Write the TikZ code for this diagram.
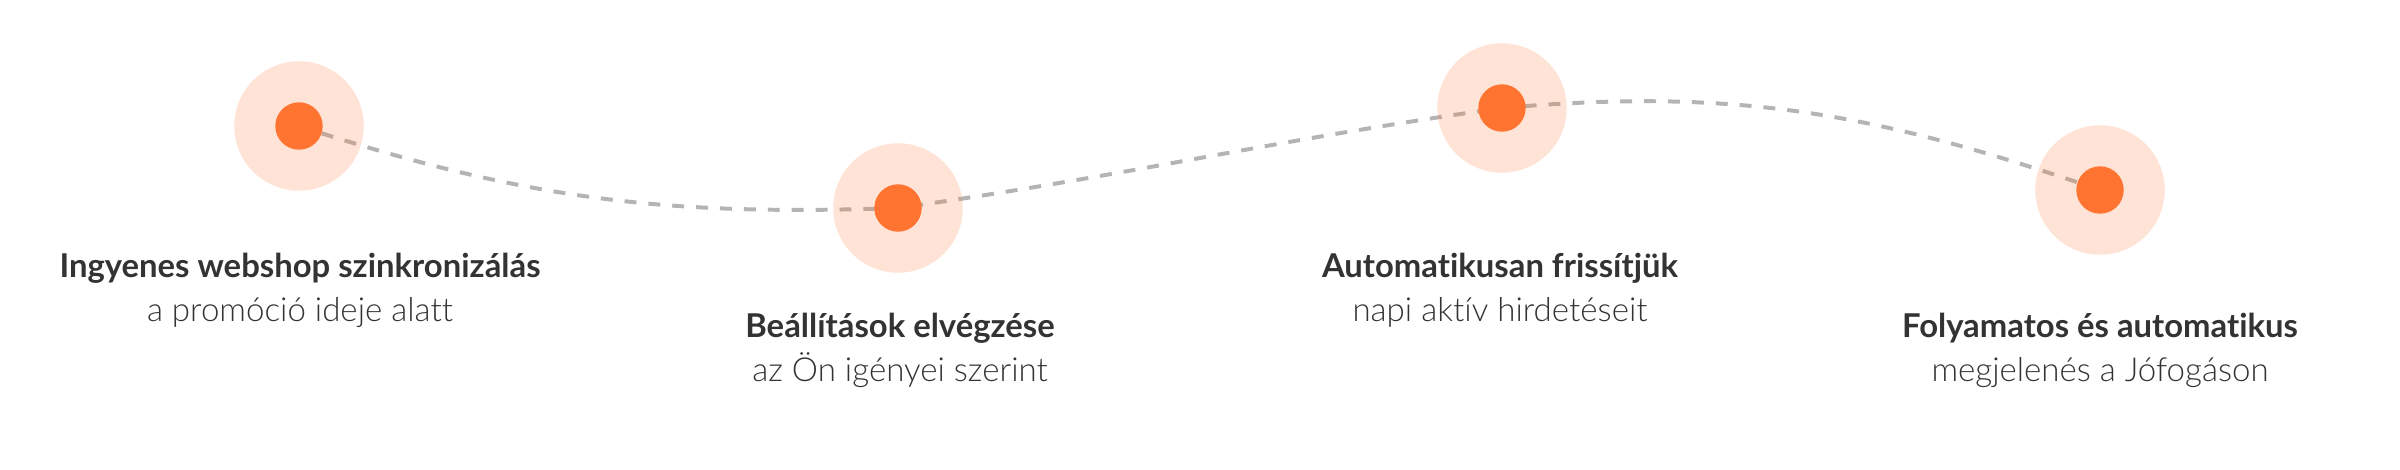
\documentclass[tikz,border=0pt]{standalone}
\usepackage{fontspec}
\setmainfont{Lato}[Ligatures=NoCommon]
\newfontfamily\lightfont{Lato Light}[Ligatures=NoCommon]
\usetikzlibrary{backgrounds}

\definecolor{dotorange}{HTML}{FF7430}
\definecolor{routegray}{HTML}{B4B4B4}
\definecolor{textdark}{HTML}{333333}

\tikzset{
  halo/.style={circle, fill=dotorange, fill opacity=0.2, inner sep=0pt, minimum size=1.294cm},
  dot/.style={circle, fill=dotorange, inner sep=0pt, minimum size=0.474cm},
  steptitle/.style={anchor=base, text=textdark, inner sep=0pt, font=\fontsize{9.33}{11}\selectfont\bfseries},
  stepnote/.style={anchor=base, text=textdark, inner sep=0pt, font=\fontsize{9.4}{11}\selectfont\lightfont},
  route/.style={draw=routegray, line width=1.13pt, dash pattern=on 3.4pt off 3.4pt}
}

\begin{document}
\begin{tikzpicture}[x=0.01cm, y=0.01cm]
  \useasboundingbox (0,0) rectangle (2400,-469);

  % the four steps
  \foreach \i/\x/\y in {1/299/-126, 2/898/-208, 3/1502/-108, 4/2100/-190} {
    \node[halo] (halo\i) at (\x,\y) {};
    \node[dot] (dot\i) at (\x,\y) {};
  }

  \node[steptitle] (title1) at (300,-277) {Ingyenes webshop szinkronizálás};
  \node[stepnote] (note1) at (300,-321) {a promóció ideje alatt};
  \node[steptitle] (title2) at (900,-337) {Beállítások elvégzése};
  \node[stepnote] (note2) at (900,-381) {az Ön igényei szerint};
  \node[steptitle] (title3) at (1500,-277) {Automatikusan frissítjük};
  \node[stepnote] (note3) at (1500,-321) {napi aktív hirdetéseit};
  \node[steptitle] (title4) at (2100,-337) {Folyamatos és automatikus};
  \node[stepnote] (note4) at (2100,-381) {megjelenés a Jófogáson};

  % dashed route behind the halos
  \begin{scope}[on background layer]
    \draw[route] (dot1.center) to[out=-18, in=182] (dot2.center)
                 to[out=8, in=188] (dot3.center)
                 to[out=5, in=161] (dot4.center);
  \end{scope}
\end{tikzpicture}
\end{document}
